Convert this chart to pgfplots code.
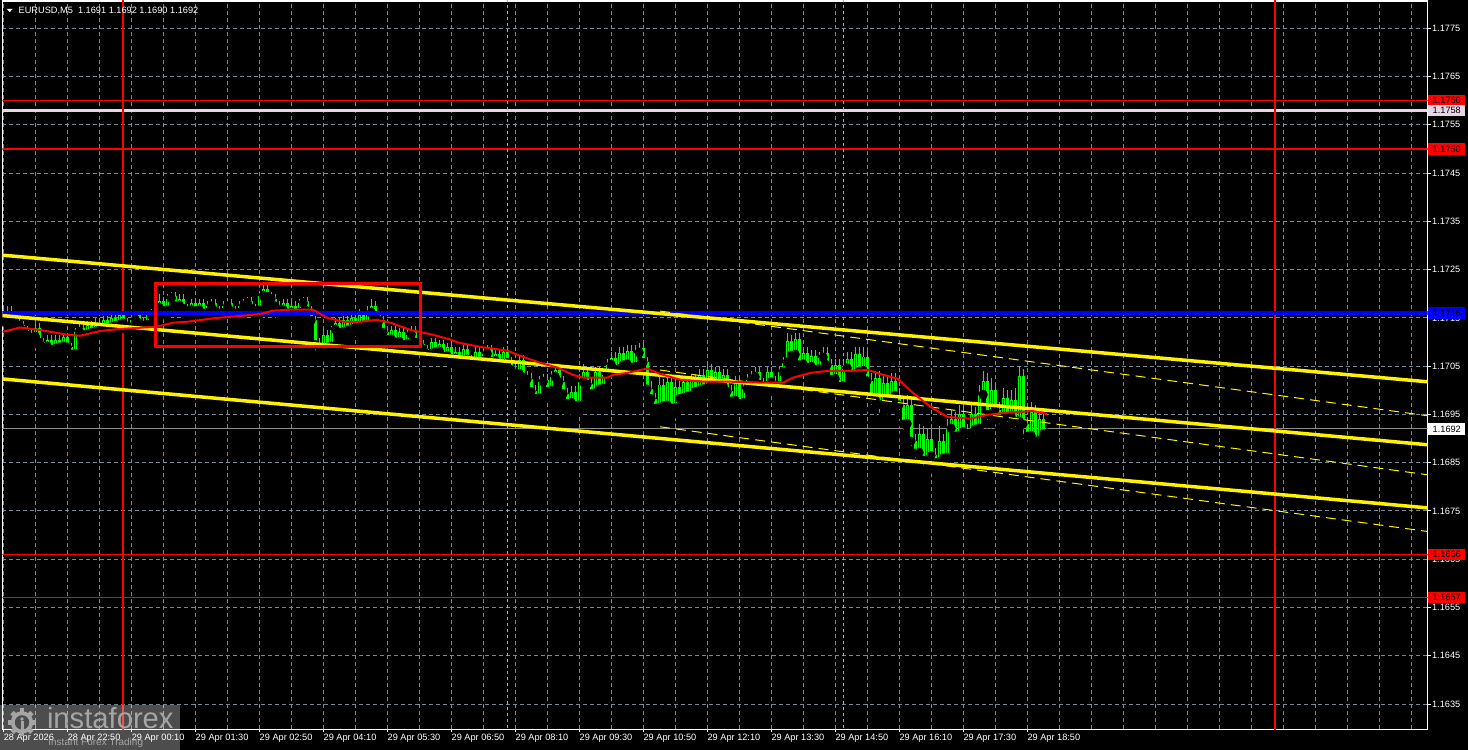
\documentclass[border=0pt]{standalone}
\usepackage{pgfplots}
\pgfplotsset{compat=1.18}
\usepackage{pgfplotstable}
\usepackage{fontspec}
\setmainfont{Liberation Sans}
\definecolor{gridc}{RGB}{119,136,153}
\definecolor{mtlime}{RGB}{0,255,0}
\definecolor{mtthistle}{RGB}{230,214,230}
\definecolor{mtyg}{RGB}{154,205,50}
\definecolor{curline}{RGB}{140,140,140}
\definecolor{gearc}{RGB}{165,165,165}
\definecolor{mtblue}{RGB}{0,0,255}
\newcommand{\tinyf}{\fontsize{4.6}{5.2}\selectfont}

\pgfplotstableread{
t o h l c
-150 1.17160 1.17174 1.17141 1.17150
-145 1.17150 1.17174 1.17141 1.17165
-140 1.17165 1.17174 1.17136 1.17145
-135 1.17145 1.17154 1.17126 1.17140
-130 1.17140 1.17149 1.17121 1.17135
-125 1.17135 1.17144 1.17111 1.17125
-120 1.17125 1.17134 1.17101 1.17115
-115 1.17115 1.17129 1.17096 1.17110
-110 1.17110 1.17139 1.17101 1.17130
-105 1.17130 1.17139 1.17091 1.17100
-100 1.17100 1.17109 1.17081 1.17090
-95 1.17090 1.17114 1.17081 1.17105
-90 1.17105 1.17114 1.17076 1.17085
-85 1.17085 1.17114 1.17076 1.17105
-80 1.17105 1.17114 1.17081 1.17090
-75 1.17090 1.17119 1.17081 1.17110
-70 1.17110 1.17119 1.17081 1.17090
-65 1.17090 1.17099 1.17056 1.17075
-60 1.17075 1.17129 1.17066 1.17120
-55 1.17120 1.17139 1.17111 1.17130
-50 1.17130 1.17139 1.17106 1.17115
-45 1.17115 1.17144 1.17106 1.17135
-40 1.17135 1.17144 1.17111 1.17120
-35 1.17120 1.17149 1.17111 1.17140
-30 1.17140 1.17149 1.17116 1.17125
-25 1.17125 1.17154 1.17116 1.17145
-20 1.17145 1.17154 1.17121 1.17130
-15 1.17130 1.17159 1.17121 1.17150
-10 1.17150 1.17159 1.17126 1.17135
-5 1.17135 1.17164 1.17126 1.17155
0 1.17155 1.17164 1.17131 1.17140
5 1.17140 1.17149 1.17121 1.17130
10 1.17130 1.17154 1.17121 1.17145
15 1.17145 1.17164 1.17136 1.17155
20 1.17155 1.17164 1.17131 1.17140
25 1.17140 1.17149 1.17126 1.17135
30 1.17135 1.17164 1.17126 1.17155
35 1.17155 1.17169 1.17146 1.17160
40 1.17160 1.17184 1.17151 1.17170
45 1.17170 1.17199 1.17161 1.17185
50 1.17185 1.17194 1.17156 1.17165
55 1.17165 1.17199 1.17156 1.17190
60 1.17190 1.17204 1.17181 1.17195
65 1.17195 1.17204 1.17166 1.17175
70 1.17175 1.17199 1.17166 1.17190
75 1.17190 1.17199 1.17161 1.17170
80 1.17170 1.17179 1.17156 1.17165
85 1.17165 1.17189 1.17156 1.17180
90 1.17180 1.17189 1.17156 1.17165
95 1.17165 1.17189 1.17156 1.17180
100 1.17180 1.17189 1.17151 1.17160
105 1.17160 1.17184 1.17151 1.17175
110 1.17175 1.17189 1.17166 1.17180
115 1.17180 1.17189 1.17156 1.17165
120 1.17165 1.17174 1.17151 1.17160
125 1.17160 1.17184 1.17151 1.17175
130 1.17175 1.17189 1.17166 1.17180
135 1.17180 1.17189 1.17156 1.17165
140 1.17165 1.17174 1.17151 1.17160
145 1.17160 1.17184 1.17151 1.17175
150 1.17175 1.17189 1.17166 1.17180
155 1.17180 1.17194 1.17171 1.17185
160 1.17185 1.17194 1.17161 1.17170
165 1.17170 1.17179 1.17156 1.17165
170 1.17165 1.17204 1.17156 1.17195
175 1.17195 1.17219 1.17186 1.17210
180 1.17210 1.17219 1.17186 1.17195
185 1.17195 1.17204 1.17181 1.17190
190 1.17190 1.17199 1.17166 1.17175
195 1.17175 1.17184 1.17156 1.17165
200 1.17165 1.17189 1.17156 1.17180
205 1.17180 1.17189 1.17151 1.17160
210 1.17160 1.17184 1.17151 1.17175
215 1.17175 1.17184 1.17151 1.17160
220 1.17160 1.17189 1.17151 1.17180
225 1.17180 1.17194 1.17171 1.17185
230 1.17185 1.17194 1.17156 1.17165
235 1.17165 1.17174 1.17136 1.17145
240 1.17145 1.17154 1.17071 1.17095
245 1.17095 1.17109 1.17061 1.17080
250 1.17080 1.17129 1.17071 1.17115
255 1.17115 1.17124 1.17076 1.17090
260 1.17090 1.17134 1.17081 1.17125
265 1.17125 1.17149 1.17116 1.17140
270 1.17140 1.17149 1.17111 1.17120
275 1.17120 1.17154 1.17111 1.17145
280 1.17145 1.17154 1.17116 1.17125
285 1.17125 1.17164 1.17116 1.17150
290 1.17150 1.17159 1.17121 1.17130
295 1.17130 1.17169 1.17121 1.17155
300 1.17155 1.17164 1.17126 1.17135
305 1.17135 1.17174 1.17126 1.17160
310 1.17160 1.17189 1.17151 1.17175
315 1.17175 1.17184 1.17146 1.17155
320 1.17155 1.17164 1.17131 1.17145
325 1.17145 1.17154 1.17111 1.17120
330 1.17120 1.17129 1.17096 1.17105
335 1.17105 1.17134 1.17096 1.17125
340 1.17125 1.17134 1.17091 1.17100
345 1.17100 1.17129 1.17091 1.17120
350 1.17120 1.17129 1.17086 1.17095
355 1.17095 1.17124 1.17086 1.17115
360 1.17115 1.17134 1.17106 1.17125
365 1.17125 1.17134 1.17091 1.17100
370 1.17100 1.17109 1.17086 1.17095
375 1.17095 1.17104 1.17076 1.17085
380 1.17085 1.17094 1.17061 1.17075
385 1.17075 1.17109 1.17066 1.17100
390 1.17100 1.17109 1.17071 1.17080
395 1.17080 1.17104 1.17071 1.17095
400 1.17095 1.17104 1.17061 1.17070
405 1.17070 1.17099 1.17061 1.17090
410 1.17090 1.17099 1.17056 1.17065
415 1.17065 1.17089 1.17056 1.17080
420 1.17080 1.17089 1.17051 1.17060
425 1.17060 1.17094 1.17051 1.17085
430 1.17085 1.17094 1.17056 1.17065
435 1.17065 1.17074 1.17046 1.17055
440 1.17055 1.17089 1.17046 1.17080
445 1.17080 1.17089 1.17051 1.17060
450 1.17060 1.17084 1.17051 1.17075
455 1.17075 1.17094 1.17066 1.17085
460 1.17085 1.17094 1.17051 1.17060
465 1.17060 1.17084 1.17051 1.17075
470 1.17075 1.17084 1.17046 1.17055
475 1.17055 1.17089 1.17046 1.17080
480 1.17080 1.17092 1.17046 1.17058
485 1.17058 1.17070 1.17031 1.17043
490 1.17043 1.17055 1.17021 1.17033
495 1.17033 1.17074 1.17021 1.17062
500 1.17062 1.17074 1.17016 1.17028
505 1.17028 1.17040 1.17006 1.17023
510 1.17023 1.17035 1.16981 1.16998
515 1.16998 1.17010 1.16966 1.16983
520 1.16983 1.17029 1.16971 1.17017
525 1.17017 1.17034 1.17005 1.17022
530 1.17022 1.17034 1.16986 1.16998
535 1.16998 1.17039 1.16986 1.17027
540 1.17027 1.17054 1.17015 1.17042
545 1.17042 1.17054 1.17006 1.17018
550 1.17018 1.17030 1.16981 1.16993
555 1.16993 1.17005 1.16956 1.16973
560 1.16973 1.17009 1.16961 1.16997
565 1.16997 1.17009 1.16951 1.16968
570 1.16968 1.17034 1.16956 1.17017
575 1.17017 1.17054 1.17005 1.17037
580 1.17037 1.17049 1.16996 1.17013
585 1.17013 1.17025 1.16976 1.16993
590 1.16993 1.17049 1.16981 1.17037
595 1.17037 1.17049 1.16991 1.17003
600 1.17003 1.17044 1.16991 1.17032
605 1.17032 1.17064 1.17020 1.17052
610 1.17052 1.17079 1.17040 1.17067
615 1.17067 1.17079 1.17031 1.17043
620 1.17043 1.17089 1.17031 1.17077
625 1.17077 1.17089 1.17041 1.17053
630 1.17053 1.17094 1.17041 1.17082
635 1.17082 1.17094 1.17036 1.17048
640 1.17048 1.17094 1.17036 1.17077
645 1.17077 1.17099 1.17065 1.17087
650 1.17087 1.17099 1.17046 1.17058
655 1.17058 1.17070 1.16991 1.17003
660 1.17003 1.17020 1.16966 1.16983
665 1.16983 1.16995 1.16946 1.16963
670 1.16963 1.17029 1.16951 1.17012
675 1.17012 1.17024 1.16951 1.16968
680 1.16968 1.17034 1.16956 1.17017
685 1.17017 1.17029 1.16946 1.16963
690 1.16963 1.17024 1.16951 1.17007
695 1.17007 1.17019 1.16966 1.16983
700 1.16983 1.17029 1.16971 1.17017
705 1.17017 1.17029 1.16976 1.16988
710 1.16988 1.17034 1.16976 1.17022
715 1.17022 1.17034 1.16986 1.16998
720 1.16998 1.17044 1.16986 1.17032
725 1.17032 1.17044 1.16991 1.17003
730 1.17003 1.17054 1.16991 1.17042
735 1.17042 1.17054 1.17001 1.17013
740 1.17013 1.17049 1.17001 1.17037
745 1.17037 1.17049 1.16996 1.17008
750 1.17008 1.17044 1.16996 1.17032
755 1.17032 1.17044 1.16986 1.16998
760 1.16998 1.17010 1.16966 1.16978
765 1.16978 1.17029 1.16966 1.17017
770 1.17017 1.17029 1.16961 1.16973
775 1.16973 1.17014 1.16961 1.17002
780 1.17002 1.17034 1.16990 1.17022
785 1.17022 1.17039 1.17010 1.17027
790 1.17027 1.17049 1.17015 1.17037
795 1.17037 1.17049 1.17001 1.17013
800 1.17013 1.17025 1.16996 1.17008
805 1.17008 1.17049 1.16996 1.17037
810 1.17037 1.17049 1.17006 1.17018
815 1.17018 1.17030 1.16996 1.17008
820 1.17008 1.17049 1.16996 1.17037
825 1.17037 1.17069 1.17025 1.17057
830 1.17057 1.17119 1.17045 1.17102
835 1.17102 1.17114 1.17056 1.17073
840 1.17073 1.17119 1.17061 1.17107
845 1.17107 1.17119 1.17041 1.17053
850 1.17053 1.17089 1.17041 1.17077
855 1.17077 1.17089 1.17036 1.17048
860 1.17048 1.17084 1.17036 1.17072
865 1.17072 1.17084 1.17031 1.17043
870 1.17043 1.17079 1.17031 1.17067
875 1.17067 1.17089 1.17055 1.17077
880 1.17077 1.17089 1.17041 1.17053
885 1.17053 1.17065 1.17006 1.17023
890 1.17023 1.17064 1.17011 1.17052
895 1.17052 1.17064 1.16991 1.17008
900 1.17008 1.17060 1.16993 1.17045
905 1.17045 1.17080 1.17030 1.17065
910 1.17065 1.17080 1.17015 1.17030
915 1.17030 1.17090 1.17015 1.17075
920 1.17075 1.17090 1.17025 1.17040
925 1.17040 1.17090 1.17025 1.17070
930 1.17070 1.17085 1.17005 1.17020
935 1.17020 1.17035 1.16960 1.16980
940 1.16980 1.17040 1.16965 1.17025
945 1.17025 1.17040 1.16940 1.16970
950 1.16970 1.17030 1.16950 1.17015
955 1.17015 1.17030 1.16960 1.16980
960 1.16980 1.17035 1.16965 1.17020
965 1.17020 1.17035 1.16970 1.16990
970 1.16990 1.17005 1.16950 1.16970
975 1.16970 1.16985 1.16905 1.16930
980 1.16930 1.16990 1.16915 1.16970
985 1.16970 1.16985 1.16875 1.16895
990 1.16895 1.16910 1.16850 1.16870
995 1.16870 1.16930 1.16855 1.16910
1000 1.16910 1.16925 1.16835 1.16855
1005 1.16855 1.16920 1.16840 1.16900
1010 1.16900 1.16920 1.16845 1.16865
1015 1.16865 1.16880 1.16832 1.16850
1020 1.16850 1.16925 1.16835 1.16895
1025 1.16895 1.16910 1.16840 1.16860
1030 1.16860 1.16940 1.16845 1.16920
1035 1.16920 1.16960 1.16905 1.16940
1040 1.16940 1.16955 1.16885 1.16905
1045 1.16905 1.16970 1.16890 1.16950
1050 1.16950 1.16965 1.16895 1.16915
1055 1.16915 1.16930 1.16890 1.16910
1060 1.16910 1.16970 1.16895 1.16950
1065 1.16950 1.16965 1.16900 1.16920
1070 1.16920 1.17010 1.16905 1.16990
1075 1.16990 1.17040 1.16975 1.17020
1080 1.17020 1.17035 1.16930 1.16950
1085 1.16950 1.17025 1.16930 1.17000
1090 1.17000 1.17015 1.16940 1.16960
1095 1.16960 1.16975 1.16920 1.16940
1100 1.16940 1.17005 1.16925 1.16985
1105 1.16985 1.17000 1.16925 1.16945
1110 1.16945 1.17000 1.16930 1.16980
1115 1.16980 1.17005 1.16915 1.16935
1120 1.16935 1.17050 1.16920 1.17030
1125 1.17030 1.17045 1.16890 1.16930
1130 1.16930 1.16945 1.16885 1.16905
1135 1.16905 1.16975 1.16890 1.16955
1140 1.16955 1.16970 1.16880 1.16895
1145 1.16895 1.16960 1.16880 1.16940
1150 1.16940 1.16955 1.16895 1.16910
1155 1.16910 1.16920 1.16900 1.16920
}\candles

\begin{document}
\begin{tikzpicture}
\path[use as bounding box, fill=black] (0,0) rectangle (734pt,375pt);
\begin{axis}[
  at={(1.2pt,10.35pt)}, anchor=south west,
  scale only axis, width=712.65pt, height=364.15pt,
  xmin=-151.25, xmax=1630.9, ymin=1.162976, ymax=1.178066,
  clip mode=individual,
  axis line style={white, line width=0.6pt},
  tick style={white, line width=0.5pt},
  tick align=outside, major tick length=1.5pt, minor tick length=0pt,
  xtick={-150,-70,...,1130},
  xticklabels={28 Apr 2026, 28 Apr 22:50, 29 Apr 00:10, 29 Apr 01:30, 29 Apr 02:50, 29 Apr 04:10, 29 Apr 05:30, 29 Apr 06:50, 29 Apr 08:10, 29 Apr 09:30, 29 Apr 10:50, 29 Apr 12:10, 29 Apr 13:30, 29 Apr 14:50, 29 Apr 16:10, 29 Apr 17:30, 29 Apr 18:50},
  minor xtick={-110,-30,50,130,210,290,370,450,530,610,690,770,850,930,1010,1090,1170,1210,1250,1290,1330,1370,1410,1450,1490,1530,1570,1610},
  ytick={1.1635,1.1645,1.1655,1.1665,1.1675,1.1685,1.1695,1.1705,1.1715,1.1725,1.1735,1.1745,1.1755,1.1765,1.1775},
  yticklabels={1.1635,1.1645,1.1655,1.1665,1.1675,1.1685,1.1695,1.1705,1.1715,1.1725,1.1735,1.1745,1.1755,1.1765,1.1775},
  xtick pos=lower, ytick pos=upper, yticklabel pos=right,
  grid=both,
  major grid style={gridc, line width=0.5pt, dash pattern=on 2pt off 1.5pt},
  minor grid style={gridc, line width=0.5pt, dash pattern=on 2pt off 1.5pt},
  xticklabel style={text=white, font=\tinyf, anchor=north west, inner sep=0pt, yshift=-0.5pt},
  yticklabel style={text=white, font=\tinyf, anchor=west, inner sep=0pt, xshift=0.5pt},
]
% level lines
\addplot[curline, line width=0.5pt, forget plot] coordinates {(-160,1.1692) (1640,1.1692)};
\addplot[red, line width=0.6pt, forget plot] coordinates {(-160,1.1760) (1640,1.1760)};
\addplot[mtthistle, line width=1.5pt, forget plot] coordinates {(-160,1.1758) (1640,1.1758)};
\addplot[red, line width=0.6pt, forget plot] coordinates {(-160,1.1750) (1640,1.1750)};
\addplot[red, line width=0.6pt, forget plot] coordinates {(-160,1.1666) (1640,1.1666)};
\addplot[red, line width=0.6pt, forget plot] coordinates {(-160,1.1657) (1640,1.1657)};
% day separators and session lines
\addplot[red, line width=1pt, forget plot] coordinates {(0,1.1620) (0,1.1790)};
\addplot[red, line width=1pt, forget plot] coordinates {(1440,1.1620) (1440,1.1790)};
\addplot[mtyg, line width=0.5pt, dash pattern=on 1.5pt off 1.5pt, forget plot] coordinates {(480,1.1620) (480,1.1790)};
\addplot[mtyg, line width=0.5pt, dash pattern=on 1.5pt off 1.5pt, forget plot] coordinates {(900,1.1620) (900,1.1790)};
% candles: wicks
\addplot[only marks, mark=none, forget plot, error bars/.cd, y dir=plus, y explicit, error mark=none, error bar style={draw=mtlime, line width=0.5pt, solid}]
  table[x=t, y=l, y error expr=\thisrow{h}-\thisrow{l}] {\candles};
% candles: bodies
\addplot[only marks, mark=none, forget plot, error bars/.cd, y dir=plus, y explicit, error mark=none, error bar style={draw=mtlime, line width=1.5pt, solid}]
  table[x=t, y expr={min(\thisrow{o},\thisrow{c})}, y error expr={abs(\thisrow{c}-\thisrow{o})}] {\candles};
% hollow bull bodies
\addplot[only marks, mark=none, forget plot, restrict expr to domain={(\thisrow{c}-\thisrow{o})*100000}{5:1000}, error bars/.cd, y dir=plus, y explicit, error mark=none, error bar style={draw=black, line width=0.5pt, solid}]
  table[x=t, y expr={\thisrow{o}+0.00002}, y error expr={\thisrow{c}-\thisrow{o}-0.00004}] {\candles};
% blue level
\addplot[mtblue, line width=2pt, forget plot] coordinates {(-160,1.1716) (1640,1.1716)};
% regression channel
\addplot[yellow, line width=1.75pt, forget plot] coordinates {(-151.25,1.17280) (1630.9,1.170176)};
\addplot[yellow, line width=1.75pt, forget plot] coordinates {(-151.25,1.171548) (1630.9,1.168871)};
\addplot[yellow, line width=1.75pt, forget plot] coordinates {(-151.25,1.170236) (1630.9,1.167563)};
\addplot[yellow, line width=0.5pt, dash pattern=on 5pt off 3pt, forget plot] coordinates {(671,1.171641) (1630.9,1.169472)};
\addplot[yellow, line width=0.5pt, dash pattern=on 5pt off 3pt, forget plot] coordinates {(671,1.170419) (1630.9,1.168249)};
\addplot[yellow, line width=0.5pt, dash pattern=on 5pt off 3pt, forget plot] coordinates {(671,1.169244) (1630.9,1.167074)};
% moving average
\addplot[red, line width=1pt, forget plot] coordinates {
(-151,1.17121) (-129,1.17130) (-104,1.17125) (-70,1.17115) (-54,1.17113) (-29,1.17123) (-4,1.17127) (25,1.17130) (42,1.17132) (62,1.17140) (80,1.17142) (117,1.17150) (146,1.17154) (171,1.17158) (187,1.17165) (209,1.17167) (237,1.17167) (255,1.17150) (275,1.17142) (296,1.17142) (317,1.17146) (334,1.17140) (359,1.17125) (387,1.17115) (409,1.17105) (421,1.17098) (446,1.17090) (480,1.17082) (500,1.17069) (521,1.17057) (543,1.17047) (562,1.17032) (575,1.17026) (605,1.17026) (612,1.17032) (630,1.17036) (646,1.17042) (655,1.17045) (671,1.17034) (696,1.17022) (725,1.17018) (755,1.17018) (796,1.17016) (825,1.17016) (837,1.17026) (859,1.17036) (880,1.17040) (905,1.17040) (931,1.17042) (946,1.17034) (968,1.17024) (987,1.16995) (1009,1.16966) (1030,1.16945) (1059,1.16941) (1080,1.16949) (1100,1.16953) (1121,1.16955) (1137,1.16957) (1155,1.16951)};
% red rectangle
\addplot[red, line width=1.5pt, line join=miter, forget plot] coordinates {(40,1.17222) (371,1.17222) (371,1.17090) (40,1.17090) (40,1.17222) (371,1.17222)};
% price boxes
\tikzset{pbox/.style={font=\tinyf, anchor=west, inner xsep=2.3pt, inner ysep=0pt, minimum height=5.6pt, text width=13.9pt, align=left}}
\node[pbox, fill=red, text=black] at (axis cs:1630.9,1.1760) {1.1760};
\node[pbox, fill=mtthistle, text=black] at (axis cs:1630.9,1.1758) {1.1758};
\node[pbox, fill=red, text=black] at (axis cs:1630.9,1.1750) {1.1750};
\node[pbox, fill=mtblue, text=black] at (axis cs:1630.9,1.1716) {1.1716};
\node[pbox, fill=white, text=black] at (axis cs:1630.9,1.1692) {1.1692};
\node[pbox, fill=red, text=black] at (axis cs:1630.9,1.1666) {1.1666};
\node[pbox, fill=red, text=black] at (axis cs:1630.9,1.1657) {1.1657};
\end{axis}
% title
\fill[white] (3.35pt,370.6pt) -- (6.35pt,370.6pt) -- (4.85pt,368.9pt) -- cycle;
\node[anchor=west, text=white, font=\tinyf, inner sep=0pt] at (9.15pt,369.7pt) {EURUSD,M5\hspace{2.6pt}1.1691 1.1692 1.1690 1.1692};
% watermark
\fill[white, opacity=0.3] (0,0) rectangle (90pt,22.5pt);
\begin{scope}[shift={(11pt,13.8pt)}]
  \fill[gearc] (0,0) circle (5.6pt);
  \foreach \a in {0,45,...,315}{\fill[gearc, rotate=\a] (-1.2pt,4.5pt) rectangle (1.2pt,7pt);}
  \fill[black!70] (0,0) circle (3.6pt);
  \fill[gearc] (0,1.7pt) circle (0.9pt);
  \fill[gearc] (-0.75pt,-4pt) rectangle (0.75pt,0.6pt);
\end{scope}
\node[anchor=base west, text=gearc, font=\fontsize{14.6}{15}\selectfont, inner sep=0pt] at (23.3pt,10.5pt) {instaforex};
\node[anchor=base west, text=gearc, font=\fontsize{5}{6}\selectfont, inner sep=0pt] at (24pt,2.4pt) {Instant Forex Trading};
\end{tikzpicture}
\end{document}
